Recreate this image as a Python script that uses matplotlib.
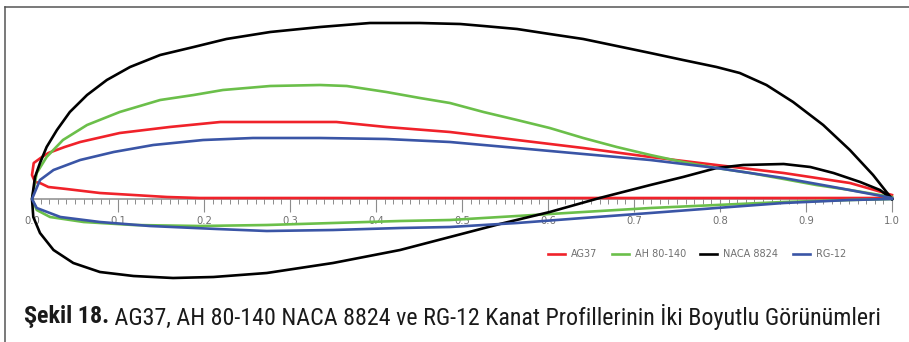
import numpy as np
import matplotlib
matplotlib.use('Agg')
from matplotlib import pyplot as plt
from matplotlib import font_manager
from matplotlib.lines import Line2D
from matplotlib.ticker import MultipleLocator, FormatStrFormatter

# profile coordinates (x/c, y/c), upper and lower surfaces
ag37_up_x = [0.0, 0.002, 0.0116, 0.019, 0.038, 0.056, 0.102, 0.160, 0.219, 0.296, 0.354,
             0.412, 0.486, 0.564, 0.641, 0.719, 0.796, 0.874, 0.951, 1.0]
ag37_up_y = [0.024, 0.036, 0.042, 0.046, 0.052, 0.057, 0.066, 0.072, 0.077, 0.077, 0.077,
             0.072, 0.067, 0.059, 0.051, 0.042, 0.034, 0.026, 0.016, 0.004]
ag37_lo_x = [0.0, 0.0035, 0.0093, 0.019, 0.040, 0.079, 0.118, 0.157, 0.195, 0.273, 1.0]
ag37_lo_y = [0.024, 0.017, 0.016, 0.012, 0.010, 0.006, 0.004, 0.002, 0.001, 0.001, 0.001]

ah_up_x = [0.0, 0.0055, 0.017, 0.036, 0.064, 0.102, 0.149, 0.188, 0.222, 0.277, 0.335, 0.366,
           0.412, 0.451, 0.486, 0.525, 0.564, 0.602, 0.641, 0.680, 0.719, 0.757, 0.796, 0.835,
           0.874, 0.912, 0.951, 1.0]
ah_up_y = [0.0, 0.026, 0.042, 0.059, 0.074, 0.087, 0.099, 0.104, 0.109, 0.113, 0.114, 0.113,
           0.107, 0.101, 0.096, 0.087, 0.079, 0.071, 0.061, 0.052, 0.044, 0.037, 0.031, 0.026,
           0.020, 0.014, 0.009, 0.002]
ah_lo_x = [0.0, 0.0055, 0.021, 0.060, 0.118, 0.195, 0.273, 0.350, 0.428, 0.486, 0.564, 0.641,
           0.719, 0.796, 0.874, 0.951, 1.0]
ah_lo_y = [0.0, -0.011, -0.018, -0.023, -0.026, -0.027, -0.026, -0.024, -0.022, -0.021, -0.017,
           -0.013, -0.009, -0.006, -0.003, -0.001, 0.0]

naca_up_x = [0.0, 0.0035, 0.0093, 0.017, 0.029, 0.044, 0.064, 0.087, 0.114, 0.149, 0.188, 0.226,
             0.277, 0.335, 0.393, 0.451, 0.498, 0.525, 0.564, 0.602, 0.641, 0.680, 0.719, 0.757,
             0.796, 0.823, 0.854, 0.885, 0.920, 0.951, 0.978, 1.0]
naca_up_y = [0.0, 0.022, 0.036, 0.052, 0.069, 0.087, 0.104, 0.119, 0.132, 0.144, 0.152, 0.160,
             0.167, 0.172, 0.176, 0.176, 0.175, 0.173, 0.170, 0.165, 0.160, 0.153, 0.146, 0.139,
             0.132, 0.126, 0.114, 0.097, 0.074, 0.049, 0.024, 0.0]
naca_lo_x = [0.0, 0.0015, 0.0093, 0.025, 0.048, 0.079, 0.118, 0.164, 0.211, 0.273, 0.350, 0.428,
             0.486, 0.544, 0.602, 0.660, 0.719, 0.757, 0.796, 0.827, 0.874, 0.905, 0.932, 0.963,
             0.986, 1.0]
naca_lo_y = [0.0, -0.018, -0.034, -0.051, -0.064, -0.073, -0.077, -0.079, -0.078, -0.074, -0.064,
             -0.051, -0.038, -0.025, -0.013, 0.001, 0.014, 0.022, 0.031, 0.034, 0.035, 0.032,
             0.026, 0.017, 0.009, 0.0]

rg_up_x = [0.0, 0.0093, 0.025, 0.056, 0.095, 0.141, 0.199, 0.257, 0.335, 0.412, 0.486, 0.564,
           0.641, 0.719, 0.796, 0.874, 0.932, 1.0]
rg_up_y = [0.0, 0.019, 0.029, 0.039, 0.047, 0.054, 0.059, 0.061, 0.061, 0.060, 0.057, 0.051,
           0.045, 0.039, 0.031, 0.021, 0.012, 0.001]
rg_lo_x = [0.0, 0.0055, 0.033, 0.079, 0.137, 0.215, 0.273, 0.350, 0.428, 0.486, 0.564, 0.641,
           0.719, 0.796, 0.874, 0.951, 1.0]
rg_lo_y = [0.0, -0.009, -0.018, -0.023, -0.027, -0.030, -0.032, -0.031, -0.029, -0.028, -0.024,
           -0.019, -0.014, -0.009, -0.004, -0.001, 0.0]

names = ['AG37', 'AH 80-140', 'NACA 8824', 'RG-12']
colors = ['#f0222a', '#6bbf4a', '#000000', '#3a55a6']

caption_bold = 'Şekil 18.'
caption_rest = ' AG37, AH 80-140 NACA 8824 ve RG-12 Kanat Profillerinin İki Boyutlu Görünümleri'


def closed(up_x, up_y, lo_x, lo_y):
    # go round the profile: upper surface back to front, then lower surface
    x = list(reversed(up_x)) + list(lo_x)
    y = list(reversed(up_y)) + list(lo_y)
    return x, y


def narrow_font():
    # the caption is set in a condensed sans; use one if the system has it
    fams = {f.name for f in font_manager.fontManager.ttflist}
    for name in ['Liberation Sans Narrow', 'Roboto Condensed', 'Open Sans Condensed',
                 'DejaVu Sans Condensed']:
        if name in fams:
            return dict(family=[name, 'DejaVu Sans'])
    for f in font_manager.fontManager.ttflist:
        if f.name == 'DejaVu Sans' and f.stretch == 'condensed':
            return dict(family=['DejaVu Sans'], stretch='condensed')
    return dict(family=['DejaVu Sans'])


profiles = [closed(ag37_up_x, ag37_up_y, ag37_lo_x, ag37_lo_y),
            closed(ah_up_x, ah_up_y, ah_lo_x, ah_lo_y),
            closed(naca_up_x, naca_up_y, naca_lo_x, naca_lo_y),
            closed(rg_up_x, rg_up_y, rg_lo_x, rg_lo_y)]

W, H = 909, 342
fig = plt.figure(figsize=(W / 100, H / 100), dpi=100)

# axes: x 0..1 -> px 32..892 ; y = 0 at px 199, 1000 px per unit
top_px, bot_px = 20, 282
ax = fig.add_axes([32 / W, 1 - bot_px / H, 860 / W, (bot_px - top_px) / H])
ax.set_xlim(0, 1)
ax.set_ylim((199 - bot_px) / 1000, (199 - top_px) / 1000)

for (x, y), name, c in zip(profiles, names, colors):
    ax.plot(x, y, color=c, lw=1.9, label=name, clip_on=False, zorder=3,
            solid_joinstyle='round')

for s in ['top', 'left', 'right']:
    ax.spines[s].set_visible(False)
ax.spines['bottom'].set_position(('data', 0))
ax.spines['bottom'].set_color('#8c8c8c')
ax.spines['bottom'].set_linewidth(1.1)
ax.set_yticks([])
ax.xaxis.set_major_locator(MultipleLocator(0.1))
ax.xaxis.set_minor_locator(MultipleLocator(0.01))
ax.xaxis.set_major_formatter(FormatStrFormatter('%.1f'))
ax.tick_params(axis='x', which='major', direction='out', length=9.5, width=0.8,
               color='#8c8c8c', labelsize=7.2, labelcolor='#707070', pad=3)
ax.tick_params(axis='x', which='minor', direction='out', length=3.6, width=0.7, color='#8c8c8c')

fig.legend(loc='center', bbox_to_anchor=(697 / W, 1 - 254 / H), ncol=4, frameon=False,
           fontsize=7, labelcolor='#707070', handlelength=1.75, handletextpad=0.6,
           columnspacing=1.5)

# frame round the figure
fig.add_artist(Line2D([5 / W, 1], [1 - 7 / H, 1 - 7 / H], transform=fig.transFigure,
                      color='#555555', lw=1.1))
fig.add_artist(Line2D([5 / W, 5 / W], [0, 1 - 7 / H], transform=fig.transFigure,
                      color='#555555', lw=1.1))

cap = narrow_font()
cap_y = 1 - 317 / H
size = 16
t1 = fig.text(24 / W, cap_y, caption_bold, fontweight='bold', fontsize=size,
              va='center', ha='left', color='#1a1a1a', **cap)
t2 = fig.text(0, cap_y, caption_rest, fontsize=size, va='center', ha='left',
              color='#1a1a1a', **cap)
# fit the caption to the width it has in the picture (24..882 px)
for _ in range(3):
    fig.canvas.draw()
    b1 = t1.get_window_extent()
    t2.set_x(b1.x1 / W)
    fig.canvas.draw()
    b2 = t2.get_window_extent()
    size *= (882 - 24) / (b2.x1 - b1.x0)
    t1.set_fontsize(size)
    t2.set_fontsize(size)
fig.canvas.draw()
t2.set_x(t1.get_window_extent().x1 / W)

fig.savefig('out.png', dpi=100)
